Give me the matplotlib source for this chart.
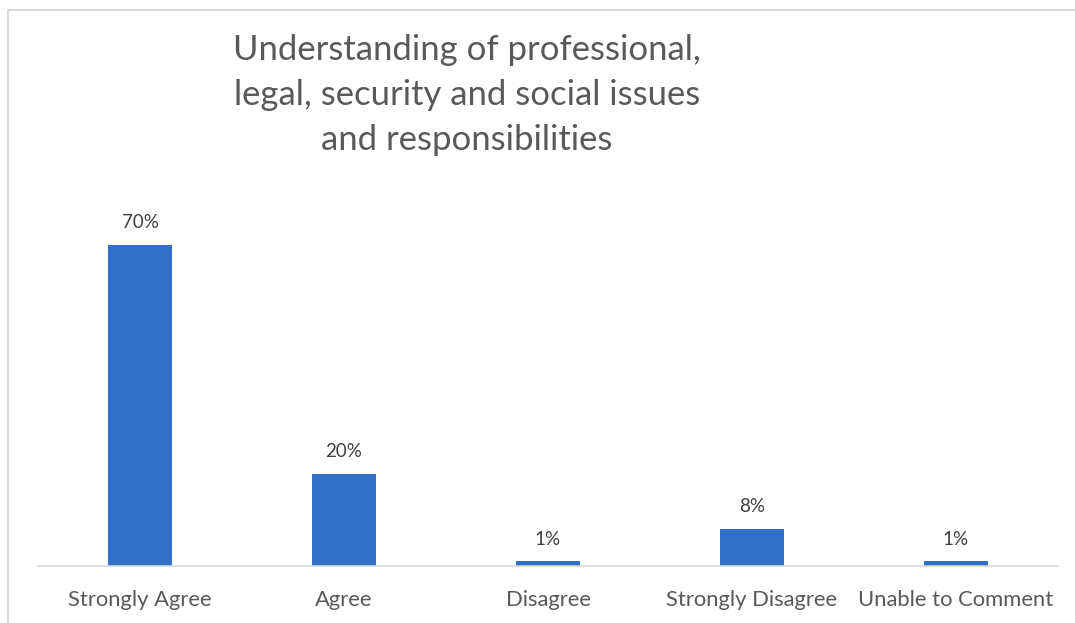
import matplotlib.pyplot as plt
from matplotlib.patches import Rectangle

categories = ["Strongly Agree", "Agree", "Disagree", "Strongly Disagree", "Unable to Comment"]
values = [70, 20, 1, 8, 1]
labels = ["70%", "20%", "1%", "8%", "1%"]
title = "Understanding of professional,\nlegal, security and social issues\nand responsibilities"

plt.rcParams['font.family'] = ['Lato', 'DejaVu Sans']

W, H = 1075, 623
fig = plt.figure(figsize=(W / 100, H / 100), dpi=100)

# chart border (cropped on the right and bottom)
fig.patches.append(Rectangle((8 / W, -0.05), 1.1, 1 - 10 / H + 0.05, transform=fig.transFigure,
                             fill=False, edgecolor="#d9d9d9", linewidth=1.5))

ax = fig.add_axes([38 / W, (H - 566) / H, 1020 / W, 386 / H])
x = range(len(categories))
ax.bar(x, values, width=0.31, color="#3070c6")
ax.set_xlim(-0.5, len(categories) - 0.5)
ax.set_ylim(0, 386 / (321 / 70))

for xi, v, lab in zip(x, values, labels):
    ax.annotate(lab, (xi, v), xytext=(0, 10), textcoords="offset points",
                ha="center", va="bottom", fontsize=13.5, color="#404040")

ax.set_xticks(list(x))
ax.set_xticklabels(categories, fontsize=15.8, color="#595959")
ax.tick_params(axis="x", length=0, pad=17.5)
ax.set_yticks([])
for s in ["top", "right", "left"]:
    ax.spines[s].set_visible(False)
ax.spines["bottom"].set_color("#d9d9d9")
ax.spines["bottom"].set_linewidth(1.2)

fig.text(467 / W, 1 - 34 / H, title, ha="center", va="top", fontsize=24.9,
         color="#595959", linespacing=1.5)

fig.savefig("out.png", dpi=100)
